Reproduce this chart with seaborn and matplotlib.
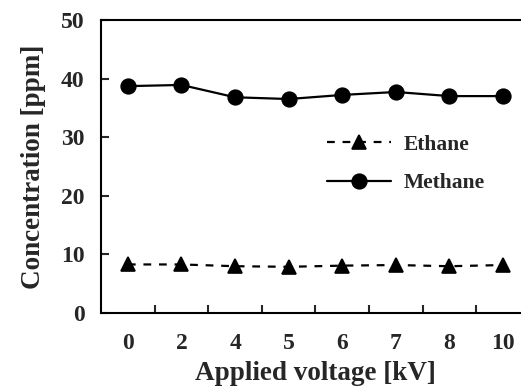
import pandas as pd
import seaborn as sns
import matplotlib.pyplot as plt
from matplotlib.ticker import FixedLocator

voltages = ["0", "2", "4", "5", "6", "7", "8", "10"]
ethane = [8.3, 8.3, 8.0, 7.9, 8.1, 8.2, 8.0, 8.2]
methane = [38.7, 38.9, 36.8, 36.5, 37.2, 37.7, 37.0, 37.0]

df = pd.DataFrame({
    "voltage": voltages * 2,
    "conc": ethane + methane,
    "gas": ["Ethane"] * len(voltages) + ["Methane"] * len(voltages),
})

sns.set_style("ticks")
plt.rcParams["font.family"] = ["Liberation Serif", "DejaVu Serif"]
plt.rcParams["font.weight"] = "bold"

fig = plt.figure(figsize=(5.21, 3.89), dpi=100)
ax = fig.add_axes([0.194, 0.195, 0.823, 0.754])

sns.pointplot(data=df, x="voltage", y="conc", hue="gas", order=voltages,
              hue_order=["Ethane", "Methane"], palette=["black", "black"],
              markers=["^", "o"], linestyles=["--", "-"], errorbar=None,
              markersize=10.5, linewidth=1.6, ax=ax)

for line in ax.lines:
    if line.get_linestyle() == "--":
        line.set_dashes([3.5, 3.5])
        line.set_markersize(9.5)

ax.set_xlim(-0.5, len(voltages) - 0.5)
ax.set_ylim(0, 50)
ax.set_yticks([0, 10, 20, 30, 40, 50])
ax.xaxis.set_minor_locator(FixedLocator([i + 0.5 for i in range(len(voltages))]))
ax.tick_params(axis="x", which="major", length=0, pad=14, labelsize=17)
ax.tick_params(axis="x", which="minor", direction="in", length=6, width=1.5)
ax.tick_params(axis="y", direction="in", length=6, width=1.5, pad=12, labelsize=17)
for lab in ax.get_xticklabels() + ax.get_yticklabels():
    lab.set_fontweight("bold")

for s in ax.spines.values():
    s.set_linewidth(1.5)
    s.set_color("black")

ax.set_xlabel("Applied voltage [kV]", fontsize=19.5, fontweight="bold", labelpad=5)
ax.set_ylabel("Concentration [ppm]", fontsize=19.5, fontweight="bold", labelpad=11)

leg = ax.legend(loc="center left", bbox_to_anchor=(0.482, 0.508), frameon=False,
                handlelength=2.95, labelspacing=0.85, handletextpad=0.6,
                prop={"size": 15.5, "weight": "bold"})

fig.savefig("out.png", dpi=100)
